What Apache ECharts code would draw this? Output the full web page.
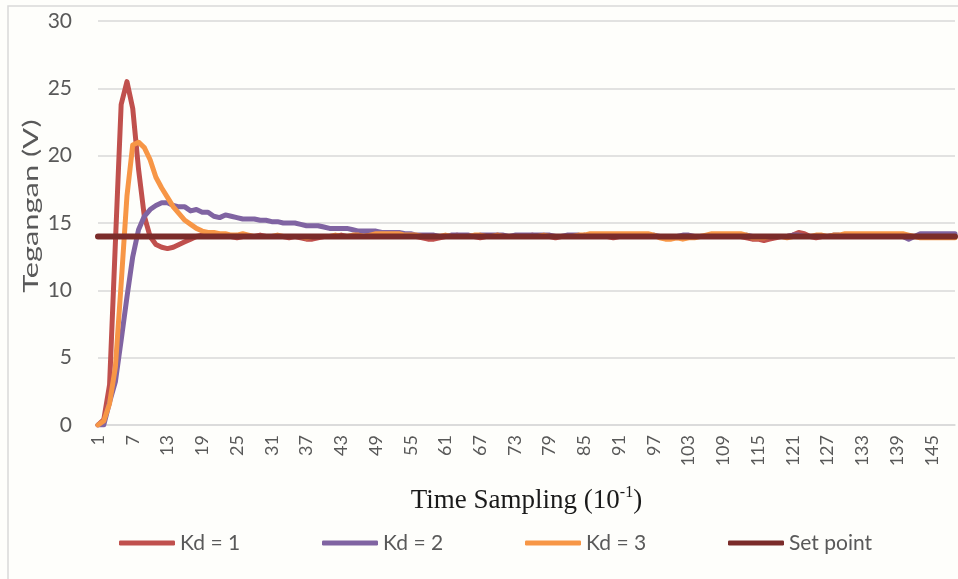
<!DOCTYPE html>
<html>
<head>
<meta charset="utf-8">
<script src="https://cdn.jsdelivr.net/npm/echarts@6/dist/echarts.min.js"></script>
<style>
html,body{margin:0;padding:0;background:#fefefb;}
#chart{width:958px;height:579px;}
</style>
</head>
<body>
<div id="chart"></div>
<script>
// ---- data ----
const categories = Array.from({length: 149}, (_, i) => String(i + 1));

const kd1 = [
  0, 0.4, 3, 13.5, 23.8, 25.5, 23.5, 19, 15.5, 14, 13.4, 13.2, 13.1, 13.2, 13.4, 13.6, 13.8, 14.0,
  14.1, 14.1, 14.0, 14.0, 14.1, 14.0, 13.9, 14.0, 14.0, 14.0,
  14.1, 14.0, 14.0, 14.0, 14.0, 13.9, 14.0, 13.9, 13.8, 13.8,
  13.9, 14.0, 14.0, 14.0, 14.1, 14.0, 14.0, 14.0, 14.0, 14.1,
  14.1, 14.0, 14.0, 14.0, 14.0, 14.1, 14.0, 14.0, 13.9, 13.8,
  13.8, 13.9, 14.0, 14.0, 14.1, 14.0, 14.0, 14.0, 13.9, 14.0,
  14.0, 14.1, 14.0, 14.0, 14.0, 14.0, 14.0, 14.1, 14.0, 14.0,
  14.0, 13.9, 14.0, 14.0, 14.0, 14.0, 14.1, 14.0, 14.0, 14.0,
  14.0, 13.9, 14.0, 14.0, 14.0, 14.0, 14.0, 14.1, 14.0, 14.0,
  14.0, 14.0, 13.9, 14.0, 14.0, 14.0, 14.0, 14.0, 14.1, 14.0,
  14.0, 14.0, 14.0, 14.0, 13.9, 13.8, 13.8, 13.7, 13.8, 13.9,
  14.0, 14.0, 14.1, 14.3, 14.2, 14.0, 13.9, 14.0, 14.0, 14.0,
  14.0, 14.1, 14.0, 14.0, 14.0, 14.0, 14.0, 14.0, 14.0, 14.1,
  14.0, 14.0, 14.0, 14.0, 14.0, 14.0, 14.0, 14.0, 14.0, 14.0, 14.0
];

const kd2 = [
  0, 0, 1.7, 3.2, 6.3, 9.5, 12.5, 14.5, 15.5, 16.0, 16.3, 16.5, 16.5, 16.3, 16.2, 16.2, 15.9, 16.0,
  15.8, 15.8, 15.5, 15.4, 15.6, 15.5, 15.4, 15.3, 15.3, 15.3,
  15.2, 15.2, 15.1, 15.1, 15.0, 15.0, 15.0, 14.9, 14.8, 14.8,
  14.8, 14.7, 14.6, 14.6, 14.6, 14.6, 14.5, 14.4, 14.4, 14.4,
  14.4, 14.3, 14.3, 14.3, 14.3, 14.2, 14.2, 14.1, 14.1, 14.1,
  14.1, 14.0, 14.0, 14.1, 14.1, 14.1, 14.1, 14.0, 14.1, 14.1,
  14.1, 14.1, 14.1, 14.0, 14.1, 14.1, 14.1, 14.1, 14.1, 14.1,
  14.1, 14.0, 14.0, 14.1, 14.1, 14.1, 14.0, 14.0, 14.1, 14.1,
  14.0, 14.0, 14.0, 14.1, 14.1, 14.1, 14.0, 14.0, 14.1, 14.0,
  14.0, 14.0, 14.0, 14.1, 14.1, 14.0, 14.0, 14.0, 14.0, 14.0,
  14.0, 14.0, 14.0, 14.0, 14.1, 14.0, 14.0, 14.0, 14.0, 14.0,
  14.0, 14.0, 14.1, 14.1, 14.0, 14.0, 14.0, 14.0, 14.0, 14.1,
  14.1, 14.0, 14.0, 14.0, 14.0, 14.1, 14.1, 14.0, 14.0, 14.0,
  14.0, 14.0, 13.8, 14.0, 14.2, 14.2, 14.2, 14.2, 14.2, 14.2, 14.2
];

const kd3 = [
  0, 0.3, 1.6, 4.3, 10.5, 17.0, 20.8, 21.0, 20.6, 19.7, 18.4, 17.6, 16.9, 16.2, 15.7, 15.2, 14.9, 14.6,
  14.4, 14.3, 14.3, 14.2, 14.2, 14.1, 14.1, 14.2, 14.1, 14.0,
  14.0, 14.0, 14.0, 14.1, 14.0, 14.0, 14.0, 14.0, 13.9, 14.0,
  14.0, 14.0, 14.0, 14.1, 14.0, 14.0, 14.1, 14.1, 14.0, 14.1,
  14.2, 14.2, 14.2, 14.2, 14.2, 14.1, 14.1, 14.1, 14.0, 14.0,
  14.0, 14.0, 14.1, 14.0, 14.0, 14.0, 14.0, 14.1, 14.1, 14.0,
  14.0, 14.1, 14.0, 14.0, 14.0, 14.0, 14.0, 14.0, 14.0, 14.1,
  14.0, 14.0, 14.0, 14.0, 14.0, 14.1, 14.1, 14.2, 14.2, 14.2,
  14.2, 14.2, 14.2, 14.2, 14.2, 14.2, 14.2, 14.2, 14.1, 13.9,
  13.8, 13.8, 13.9, 13.8, 13.9, 13.9, 14.0, 14.1, 14.2, 14.2,
  14.2, 14.2, 14.2, 14.2, 14.1, 13.9, 13.9, 13.9, 14.0, 14.0,
  14.0, 13.9, 14.0, 14.0, 14.0, 14.0, 14.1, 14.1, 14.0, 14.1,
  14.1, 14.2, 14.2, 14.2, 14.2, 14.2, 14.2, 14.2, 14.2, 14.2,
  14.2, 14.2, 14.1, 14.0, 13.9, 13.9, 13.9, 13.9, 13.9, 13.9, 13.9
];

const setPoint = [
  14,14,14,14,14,14,14,14,14,14,14,14,14,14,14,14,14,14,14,14,
  14,14,14,14,14,14,14,14,14,14,14,14,14,14,14,14,14,14,14,14,
  14,14,14,14,14,14,14,14,14,14,14,14,14,14,14,14,14,14,14,14,
  14,14,14,14,14,14,14,14,14,14,14,14,14,14,14,14,14,14,14,14,
  14,14,14,14,14,14,14,14,14,14,14,14,14,14,14,14,14,14,14,14,
  14,14,14,14,14,14,14,14,14,14,14,14,14,14,14,14,14,14,14,14,
  14,14,14,14,14,14,14,14,14,14,14,14,14,14,14,14,14,14,14,14,
  14,14,14,14,14,14,14,14,14
];

const seriesNames = ['Kd = 1', 'Kd = 2', 'Kd = 3', 'Set point'];
const seriesColors = ['#C0504D', '#8064A2', '#F79646', '#7B2C2A'];
const yTicks = {min: 0, max: 30, interval: 5};

// ---- chart ----
const chart = echarts.init(document.getElementById('chart'), null, {renderer: 'canvas'});
const font = 'Lato, "Noto Sans", sans-serif';
const serif = '"Liberation Serif", "Times New Roman", serif';
const allData = [kd1, kd2, kd3, setPoint];

const option = {
  backgroundColor: '#fefefb',
  animation: false,
  grid: {left: 98, right: 3, top: 21, bottom: 154, containLabel: false},
  legend: {
    data: seriesNames,
    left: 119,
    top: 531,
    padding: 0,
    icon: 'roundRect',
    itemWidth: 56,
    itemHeight: 5,
    itemGap: 0,
    textStyle: {fontFamily: font, fontSize: 21, color: '#595959', width: 142, lineHeight: 24}
  },
  xAxis: {
    type: 'category',
    data: categories,
    boundaryGap: false,
    axisLine: {lineStyle: {color: '#d9d9d9', width: 1.5}},
    axisTick: {show: false},
    axisLabel: {interval: 5, rotate: 90, fontFamily: font, fontSize: 18, color: '#595959', margin: 10},
    splitLine: {show: false},
    name: '{a|Time Sampling (10}{s|-1}{a|)}',
    nameLocation: 'middle',
    nameGap: 59,
    nameTextStyle: {
      rich: {
        a: {fontFamily: serif, fontSize: 27, color: '#1a1a1a', lineHeight: 30, verticalAlign: 'bottom'},
        s: {fontFamily: serif, fontSize: 16, color: '#1a1a1a', lineHeight: 30, verticalAlign: 'top', padding: [1, 0, 0, 0]}
      }
    }
  },
  yAxis: {
    type: 'value',
    min: yTicks.min,
    max: yTicks.max,
    interval: yTicks.interval,
    axisLine: {show: false},
    axisTick: {show: false},
    axisLabel: {fontFamily: font, fontSize: 21, color: '#595959', margin: 26},
    splitLine: {lineStyle: {color: '#d9d9d9', width: 1.5}}
  },
  graphic: [
    {
      type: 'rect', silent: true, z: -1,
      shape: {x: 8, y: 6, width: 980, height: 600},
      style: {fill: null, stroke: '#d9d9d9', lineWidth: 1.5}
    },
    {
      type: 'text',
      x: 31, y: 206,
      rotation: Math.PI / 2,
      scaleX: 1.4,
      style: {text: 'Tegangan (V)', fontFamily: font, fontSize: 22, fill: '#595959', textAlign: 'center', textVerticalAlign: 'middle'}
    }
  ],
  series: seriesNames.map((name, i) => ({
    name: name,
    type: 'line',
    data: allData[i],
    showSymbol: false,
    symbol: 'none',
    smooth: false,
    color: seriesColors[i],
    lineStyle: {width: i === 3 ? 6 : 5, color: seriesColors[i], join: 'round', cap: 'round'},
    z: 2 + i
  }))
};
chart.setOption(option);
</script>
</body>
</html>
